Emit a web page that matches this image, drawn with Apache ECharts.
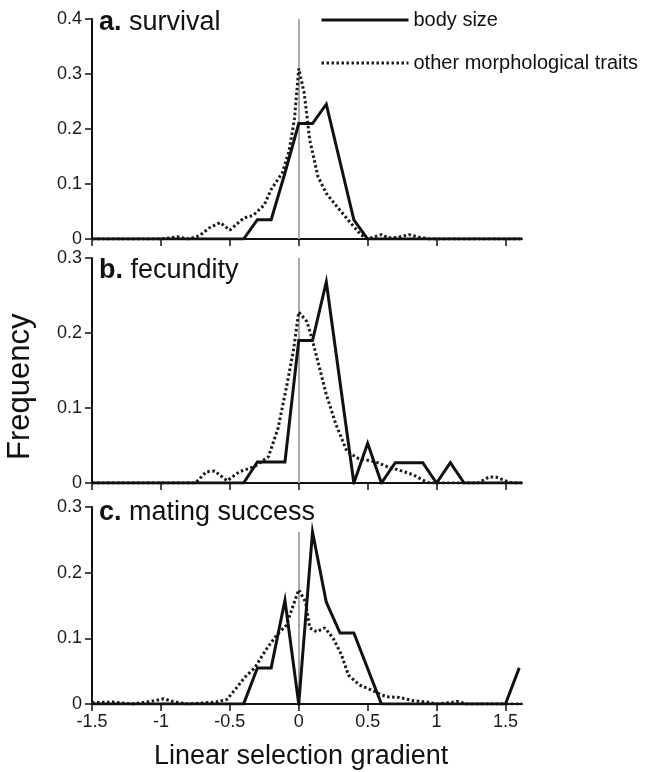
<!DOCTYPE html>
<html>
<head>
<meta charset="utf-8">
<script src="https://cdn.jsdelivr.net/npm/echarts@6/dist/echarts.min.js"></script>
<style>
  html, body { margin: 0; padding: 0; background: #fff; }
  #chart { width: 647px; height: 772px; }
</style>
</head>
<body>
<div id="chart"></div>
<script>
// x tick labels shown on the bottom panel
var xTicks = [-1.5, -1, -0.5, 0, 0.5, 1, 1.5];

// a. survival
var survivalBodyX = [-1.5, -0.4, -0.3, -0.2, -0.1, 0, 0.1, 0.2, 0.3, 0.4, 0.5, 1.62];
var survivalBodyY = [0, 0, 0.035, 0.035, 0.12, 0.21, 0.21, 0.245, 0.14, 0.035, 0, 0];
var survivalOtherX = [-1.5, -1.0, -0.88, -0.8, -0.72, -0.65, -0.57, -0.5, -0.4, -0.33, -0.25, -0.2, -0.12, -0.07, -0.03, 0, 0.04, 0.08, 0.14, 0.2, 0.28, 0.37, 0.45, 0.5, 0.55, 0.6, 0.65, 0.72, 0.8, 0.86, 0.95, 1.62];
var survivalOtherY = [0, 0, 0.004, 0, 0.006, 0.02, 0.03, 0.016, 0.038, 0.043, 0.062, 0.09, 0.12, 0.16, 0.22, 0.31, 0.265, 0.18, 0.113, 0.083, 0.058, 0.031, 0.008, 0, 0.004, 0.008, 0.002, 0.003, 0.008, 0.004, 0, 0];

// b. fecundity
var fecundityBodyX = [-1.5, -0.4, -0.3, -0.2, -0.1, 0, 0.1, 0.2, 0.4, 0.5, 0.6, 0.7, 0.8, 0.9, 1.0, 1.1, 1.2, 1.62];
var fecundityBodyY = [0, 0, 0.028, 0.028, 0.028, 0.19, 0.19, 0.268, 0, 0.053, 0, 0.027, 0.027, 0.027, 0, 0.027, 0, 0];
var fecundityOtherX = [-1.5, -0.75, -0.67, -0.61, -0.52, -0.43, -0.32, -0.22, -0.15, -0.09, -0.04, 0, 0.06, 0.1, 0.15, 0.2, 0.27, 0.35, 0.43, 0.56, 0.64, 0.73, 0.83, 0.9, 0.95, 1.3, 1.38, 1.43, 1.5, 1.55, 1.62];
var fecundityOtherY = [0, 0, 0.015, 0.016, 0.003, 0.015, 0.022, 0.035, 0.073, 0.127, 0.175, 0.228, 0.215, 0.19, 0.154, 0.118, 0.078, 0.042, 0.033, 0.028, 0.022, 0.017, 0.011, 0.004, 0, 0, 0.008, 0.008, 0.003, 0, 0];

// c. mating success
var matingBodyX = [-1.5, -0.4, -0.3, -0.2, -0.1, 0, 0.1, 0.2, 0.3, 0.4, 0.6, 1.5, 1.6];
var matingBodyY = [0, 0, 0.055, 0.055, 0.158, 0, 0.262, 0.155, 0.108, 0.108, 0, 0, 0.055];
var matingOtherX = [-1.5, -1.35, -1.2, -1.05, -0.98, -0.9, -0.8, -0.6, -0.52, -0.45, -0.39, -0.32, -0.23, -0.16, -0.09, -0.04, 0, 0.05, 0.08, 0.13, 0.19, 0.25, 0.31, 0.36, 0.44, 0.53, 0.6, 0.64, 0.73, 0.83, 0.93, 1.0, 1.1, 1.15, 1.22, 1.62];
var matingOtherY = [0.002, 0.003, 0, 0.005, 0.008, 0.003, 0, 0.003, 0.007, 0.025, 0.041, 0.055, 0.085, 0.105, 0.12, 0.15, 0.174, 0.155, 0.116, 0.11, 0.116, 0.1, 0.075, 0.044, 0.029, 0.021, 0.014, 0.011, 0.01, 0.005, 0.003, 0, 0.002, 0.004, 0, 0];

var panelMax = [0.4, 0.3, 0.3];
var zeroLineTop = [0.4, 0.3, 0.262];

var font = '"Liberation Sans", Arial, Helvetica, sans-serif';

function pairs(xs, ys) {
  return xs.map(function (x, i) { return [x, ys[i]]; });
}

var charts = echarts.init(document.getElementById('chart'));

var grids = [
  { left: 92, right: 125, top: 19, height: 220 },
  { left: 92, right: 125, top: 258, height: 225 },
  { left: 92, right: 125, top: 507, height: 197 }
];

var xAxes = [0, 1, 2].map(function (i) {
  return {
    type: 'value',
    gridIndex: i,
    min: -1.5,
    max: 1.62,
    interval: 0.5,
    splitLine: { show: false },
    axisLine: { onZero: false, lineStyle: { color: '#111', width: 2 } },
    axisTick: { show: true, length: 7, customValues: xTicks, lineStyle: { color: '#111', width: 1.5 } },
    axisLabel: {
      show: i === 2,
      customValues: xTicks,
      margin: 9,
      color: '#1a1a1a',
      fontSize: 18,
      fontFamily: font
    }
  };
});

var yAxes = [0, 1, 2].map(function (i) {
  return {
    type: 'value',
    gridIndex: i,
    min: 0,
    max: panelMax[i],
    interval: 0.1,
    splitLine: { show: false },
    axisLine: { show: true, onZero: false, lineStyle: { color: '#111', width: 2 } },
    axisTick: { show: true, length: 7, lineStyle: { color: '#111', width: 1.5 } },
    axisLabel: {
      margin: 10,
      color: '#1a1a1a',
      fontSize: 18,
      fontFamily: font,
      formatter: function (v) { return v === 0 ? '0' : v.toFixed(1); }
    }
  };
});

function bodySeries(i, xs, ys) {
  return {
    name: 'body size',
    type: 'line',
    xAxisIndex: i,
    yAxisIndex: i,
    data: pairs(xs, ys),
    symbol: 'none',
    z: 4,
    lineStyle: { color: '#111', width: 3, join: 'miter' },
    itemStyle: { color: '#111' }
  };
}

function otherSeries(i, xs, ys) {
  return {
    name: 'other morphological traits',
    type: 'line',
    xAxisIndex: i,
    yAxisIndex: i,
    data: pairs(xs, ys),
    symbol: 'none',
    z: 3,
    lineStyle: { color: '#1a1a1a', width: 3, type: [2.5, 2.5] },
    itemStyle: { color: '#1a1a1a' },
    markLine: {
      silent: true,
      symbol: 'none',
      label: { show: false },
      z: 1,
      lineStyle: { color: '#aaa', width: 2, type: 'solid' },
      data: [[{ coord: [0, 0] }, { coord: [0, zeroLineTop[i]] }]]
    }
  };
}

function panelTitle(bold, rest, top) {
  return {
    text: '{b|' + bold + '} ' + rest,
    left: 94,
    top: top,
    textStyle: {
      fontFamily: font,
      fontSize: 27,
      fontWeight: 'normal',
      color: '#111',
      rich: {
        b: { fontFamily: font, fontSize: 27, fontWeight: 'bold', color: '#111' }
      }
    }
  };
}

charts.setOption({
  backgroundColor: '#fff',
  animation: false,
  title: [
    panelTitle('a.', 'survival', 4),
    panelTitle('b.', 'fecundity', 252),
    panelTitle('c.', 'mating success', 494)
  ],
  legend: {
    orient: 'vertical',
    left: 315,
    top: 5,
    itemWidth: 87,
    itemHeight: 20,
    itemGap: 23,
    itemStyle: { color: 'rgba(0,0,0,0)', borderWidth: 0, opacity: 0 },
    lineStyle: { width: 3 },
    data: ['body size', 'other morphological traits'],
    textStyle: { fontFamily: font, fontSize: 20, color: '#111' }
  },
  grid: grids,
  xAxis: xAxes,
  yAxis: yAxes,
  graphic: [
    {
      type: 'text',
      left: 154,
      top: 743,
      style: { text: 'Linear selection gradient', font: '27px ' + font, fill: '#111' }
    },
    {
      type: 'text',
      x: 5,
      y: 460,
      rotation: Math.PI / 2,
      style: { text: 'Frequency', font: '31px ' + font, fill: '#111' }
    }
  ],
  series: [
    otherSeries(0, survivalOtherX, survivalOtherY),
    bodySeries(0, survivalBodyX, survivalBodyY),
    otherSeries(1, fecundityOtherX, fecundityOtherY),
    bodySeries(1, fecundityBodyX, fecundityBodyY),
    otherSeries(2, matingOtherX, matingOtherY),
    bodySeries(2, matingBodyX, matingBodyY)
  ]
});

window.addEventListener('resize', function () {
  charts.resize();
});
</script>
</body>
</html>
